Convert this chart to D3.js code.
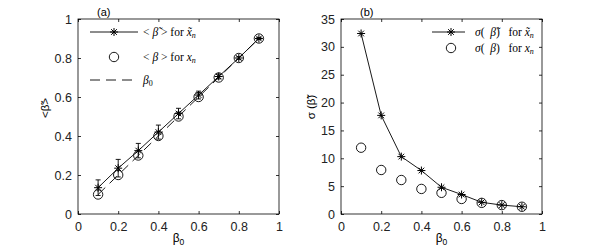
<!DOCTYPE html>
<meta charset='utf-8'>
<html>
  <head>
    <script src="https://d3js.org/d3.v7.min.js"></script>
    <style>
      body { margin: 0; background: #fff; }
      .axis text { font-family: "Liberation Sans", Arial, sans-serif; font-size: 12.5px; fill: #222; }
      .axis path { display: none; }
      .axis line { stroke: #000; stroke-width: 0.8; }
      .math { font-family: "Liberation Serif", serif; font-size: 11.5px; fill: #000; }
    </style>
  </head>
  <body>
    <div id="chart"></div>
    <script>
        // data
        var beta0 = [0.1, 0.2, 0.3, 0.4, 0.5, 0.6, 0.7, 0.8, 0.9]
        var meanTilde = [0.135, 0.235, 0.325, 0.42, 0.515, 0.61, 0.705, 0.8, 0.9]
        var errTilde = [0.04, 0.045, 0.037, 0.036, 0.027, 0.02, 0.012, 0.007, 0.005]
        var meanPlain = [0.1, 0.2, 0.3, 0.4, 0.5, 0.6, 0.7, 0.8, 0.9]
        var sigmaTilde = [32.4, 17.7, 10.3, 7.8, 4.8, 3.5, 2.1, 1.6, 1.3]
        var sigmaPlain = [11.9, 7.9, 6.1, 4.5, 3.8, 2.7, 2.0, 1.6, 1.3]
        var xTicks = [0, 0.2, 0.4, 0.6, 0.8, 1]
        var yTicksA = [0, 0.2, 0.4, 0.6, 0.8, 1]
        var yTicksB = [0, 5, 10, 15, 20, 25, 30, 35]

        var svg = d3.select('#chart').append('svg')
            .attr('width', 600)
            .attr('height', 250)

        var plotTop = 19, h = 195, w = 201

        // asterisk marker
        function star(g, x, y, s) {
            var p = g.append('g').attr('transform', 'translate(' + x + ',' + y + ')')
            var a = [0, 45, 90, 135]
            a.forEach(function (d) {
                var r = d * Math.PI / 180
                p.append('line')
                  .attr('x1', -s * Math.cos(r)).attr('y1', -s * Math.sin(r))
                  .attr('x2', s * Math.cos(r)).attr('y2', s * Math.sin(r))
                  .attr('stroke', '#000').attr('stroke-width', 1)
            })
        }
        function ring(g, x, y) {
            g.append('circle').attr('cx', x).attr('cy', y).attr('r', 4.7)
              .attr('fill', 'none').attr('stroke', '#000').attr('stroke-width', 0.9)
        }

        function panel(left, yDomain, yTicks, yFmt, title) {
            var g = svg.append('g').attr('transform', 'translate(' + left + ',' + plotTop + ')')
            var x = d3.scaleLinear().domain([0, 1]).range([0, w])
            var y = d3.scaleLinear().domain(yDomain).range([h, 0])

            g.append('g').attr('class', 'axis').attr('transform', 'translate(0,' + h + ')')
              .call(d3.axisBottom(x).tickValues(xTicks).tickSize(-3).tickPadding(8).tickFormat(d3.format('~g')))
            g.append('g').attr('class', 'axis')
              .call(d3.axisTop(x).tickValues(xTicks).tickSize(-3).tickFormat(''))
            g.append('g').attr('class', 'axis')
              .call(d3.axisLeft(y).tickValues(yTicks).tickSize(-3).tickPadding(6).tickFormat(yFmt))
            g.append('g').attr('class', 'axis').attr('transform', 'translate(' + w + ',0)')
              .call(d3.axisRight(y).tickValues(yTicks).tickSize(-3).tickFormat(''))
            g.append('rect').attr('width', w).attr('height', h)
              .attr('fill', 'none').attr('stroke', '#000').attr('stroke-width', 0.8)

            g.append('text').attr('x', 19).attr('y', -3)
              .style('font-family', '"Liberation Sans", Arial, sans-serif').style('font-size', '11px')
              .text(title)

            var xl = g.append('text').attr('x', w / 2).attr('y', h + 28)
              .attr('text-anchor', 'middle')
              .style('font-family', '"Liberation Sans", Arial, sans-serif').style('font-size', '12px')
            xl.append('tspan').text('β')
            xl.append('tspan').attr('dy', 3).style('font-size', '8.5px').text('0')
            return { g: g, x: x, y: y }
        }

        // panel (a)
        var A = panel(78, [0, 1], yTicksA, d3.format('~g'), '(a)')
        A.g.append('line')
          .attr('x1', A.x(beta0[0])).attr('y1', A.y(beta0[0]))
          .attr('x2', A.x(beta0[8])).attr('y2', A.y(beta0[8]))
          .attr('stroke', '#000').attr('stroke-width', 0.9).attr('stroke-dasharray', '10,6')
        A.g.append('path').datum(beta0)
          .attr('fill', 'none').attr('stroke', '#000').attr('stroke-width', 0.9)
          .attr('d', d3.line().x(function (d) { return A.x(d) })
            .y(function (d, i) { return A.y(meanTilde[i]) }))
        beta0.forEach(function (b, i) {
            var cx = A.x(b)
            var y1 = A.y(meanTilde[i] - errTilde[i]), y2 = A.y(meanTilde[i] + errTilde[i])
            A.g.append('line').attr('x1', cx).attr('x2', cx).attr('y1', y1).attr('y2', y2)
              .attr('stroke', '#000').attr('stroke-width', 0.9)
            ;[y1, y2].forEach(function (yy) {
                A.g.append('line').attr('x1', cx - 2.5).attr('x2', cx + 2.5).attr('y1', yy).attr('y2', yy)
                  .attr('stroke', '#000').attr('stroke-width', 0.9)
            })
            ring(A.g, cx, A.y(meanPlain[i]))
            star(A.g, cx, A.y(meanTilde[i]), 4)
        })
        svg.append('text').attr('transform', 'translate(49,108) rotate(-90)')
          .attr('text-anchor', 'middle')
          .style('font-family', '"Liberation Sans", Arial, sans-serif').style('font-size', '11.5px')
          .text('<β\u0303>')

        // legend (a)
        var la = svg.append('g')
        la.append('line').attr('x1', 90).attr('x2', 138).attr('y1', 32).attr('y2', 32)
          .attr('stroke', '#000').attr('stroke-width', 0.9)
        star(la, 114, 32, 4)
        ring(la, 114, 57)
        la.append('line').attr('x1', 90).attr('x2', 135).attr('y1', 80).attr('y2', 80)
          .attr('stroke', '#000').attr('stroke-width', 0.9).attr('stroke-dasharray', '10,6')
        var t1 = la.append('text').attr('class', 'math').attr('x', 143).attr('y', 36)
        t1.append('tspan').text('< ')
        t1.append('tspan').style('font-style', 'italic').text('β\u0303')
        t1.append('tspan').text(' > for ')
        t1.append('tspan').style('font-style', 'italic').text('x\u0303')
        t1.append('tspan').attr('dy', 2).style('font-size', '8px').style('font-style', 'italic').text('n')
        var t2 = la.append('text').attr('class', 'math').attr('x', 143).attr('y', 61)
        t2.append('tspan').text('< ')
        t2.append('tspan').style('font-style', 'italic').text('β')
        t2.append('tspan').text(' > for ')
        t2.append('tspan').style('font-style', 'italic').text('x')
        t2.append('tspan').attr('dy', 2).style('font-size', '8px').style('font-style', 'italic').text('n')
        var t3 = la.append('text').attr('class', 'math').attr('x', 143).attr('y', 84)
        t3.append('tspan').style('font-style', 'italic').text('β')
        t3.append('tspan').attr('dy', 2).style('font-size', '8px').text('0')

        // panel (b)
        var B = panel(341, [0, 35], yTicksB, d3.format('d'), '(b)')
        B.g.append('path').datum(beta0)
          .attr('fill', 'none').attr('stroke', '#000').attr('stroke-width', 0.9)
          .attr('d', d3.line().x(function (d) { return B.x(d) })
            .y(function (d, i) { return B.y(sigmaTilde[i]) }))
        beta0.forEach(function (b, i) {
            ring(B.g, B.x(b), B.y(sigmaPlain[i]))
            star(B.g, B.x(b), B.y(sigmaTilde[i]), 4)
        })
        svg.append('text').attr('transform', 'translate(315,107) rotate(-90)')
          .attr('text-anchor', 'middle')
          .style('font-family', '"Liberation Sans", Arial, sans-serif').style('font-size', '11.5px')
          .text('σ (β\u0303)')

        // legend (b)
        var lb = svg.append('g')
        lb.append('line').attr('x1', 432).attr('x2', 465).attr('y1', 32).attr('y2', 32)
          .attr('stroke', '#000').attr('stroke-width', 0.9)
        star(lb, 451, 32, 4)
        ring(lb, 451, 48)
        var s1 = lb.append('text').attr('class', 'math').attr('x', 475).attr('y', 36)
          .attr('xml:space', 'preserve').style('white-space', 'pre')
        s1.append('tspan').style('font-style', 'italic').text('σ')
        s1.append('tspan').text('(  ')
        s1.append('tspan').style('font-style', 'italic').text('β\u0303')
        s1.append('tspan').text(')   for ')
        s1.append('tspan').style('font-style', 'italic').text('x\u0303')
        s1.append('tspan').attr('dy', 2).style('font-size', '8px').style('font-style', 'italic').text('n')
        var s2 = lb.append('text').attr('class', 'math').attr('x', 475).attr('y', 52)
          .attr('xml:space', 'preserve').style('white-space', 'pre')
        s2.append('tspan').style('font-style', 'italic').text('σ')
        s2.append('tspan').text('(  ')
        s2.append('tspan').style('font-style', 'italic').text('β')
        s2.append('tspan').text(')   for ')
        s2.append('tspan').style('font-style', 'italic').text('x')
        s2.append('tspan').attr('dy', 2).style('font-size', '8px').style('font-style', 'italic').text('n')
    </script>
  </body>
</html>
